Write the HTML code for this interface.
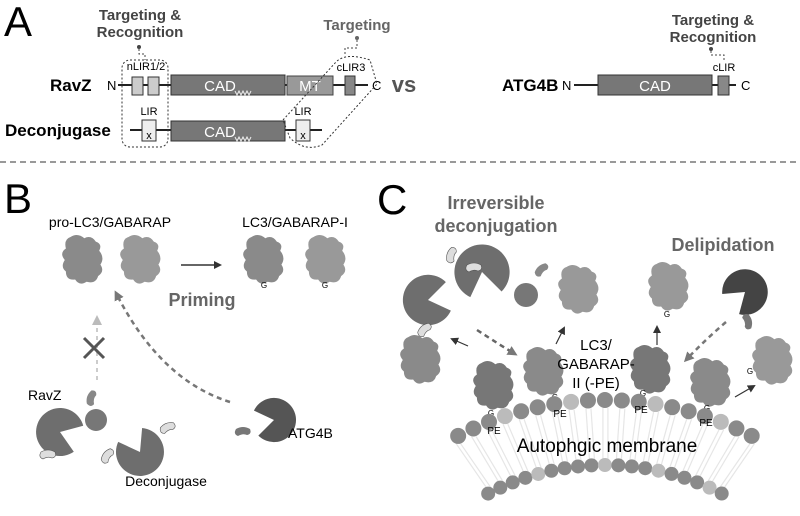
<!DOCTYPE html>
<html><head><meta charset="utf-8"><style>
html,body{margin:0;padding:0;background:#fff;}
svg{display:block;font-family:"Liberation Sans",sans-serif;}
</style></head><body>
<svg id="s" width="800" height="516" viewBox="0 0 800 516" xmlns="http://www.w3.org/2000/svg">
<defs>
<path id="pr" d="M-11.5,-23 Q-4.6,-27.6 2.3,-21.8 Q9.2,-25.3 13.8,-18.4 Q20.7,-16.1 17.2,-9.2 Q23,-2.3 18.4,4.6 Q23,11.5 16.1,16.1 Q13.8,24.1 4.6,21.8 Q-2.3,26.4 -6.9,19.5 Q-16.1,20.7 -16.1,11.5 Q-21.8,6.9 -17.2,0 Q-23,-6.9 -16.1,-11.5 Q-18.4,-20.7 -11.5,-23Z"/>
<path id="pm" d="M0,0 L19.7,-13.8 A24,24 0 1,0 19.7,13.8 Z"/>
<path id="lb" d="M-7,-3 Q0,-7 7,-3 Q9,2 4,3 Q0,1 -5,4 Q-10,2 -7,-3Z"/>
<marker id="ah" markerWidth="8" markerHeight="8" refX="6" refY="4" orient="auto" markerUnits="userSpaceOnUse"><path d="M0,0 L8,4 L0,8Z" fill="#333"/></marker>
<marker id="ahg" markerWidth="10" markerHeight="10" refX="7" refY="5" orient="auto" markerUnits="userSpaceOnUse"><path d="M0,0 L10,5 L0,10Z" fill="#777"/></marker>
<marker id="ahl" markerWidth="10" markerHeight="10" refX="7" refY="5" orient="auto" markerUnits="userSpaceOnUse"><path d="M0,0 L10,5 L0,10Z" fill="#bbb"/></marker>
</defs>

<!-- A -->
<text x="4" y="36" font-size="42">A</text>
<g font-weight="bold" font-size="15" fill="#444" text-anchor="middle">
<text x="140" y="20">Targeting &amp;</text><text x="140" y="37">Recognition</text>
<text x="357" y="30" fill="#666">Targeting</text>
<text x="713" y="25">Targeting &amp;</text><text x="713" y="42">Recognition</text>
</g>
<circle cx="139" cy="47" r="2" fill="#444"/><path d="M139,49 V54 H145 V60" stroke="#444" stroke-dasharray="2,2" fill="none"/>
<circle cx="357" cy="38" r="2" fill="#666"/><path d="M357,40 V48 H345 V55" stroke="#444" stroke-dasharray="2,2" fill="none"/>
<circle cx="711" cy="49" r="2" fill="#444"/><path d="M711,51 V55 H724 V60" stroke="#444" stroke-dasharray="2,2" fill="none"/>

<text x="50" y="91" font-weight="bold" font-size="17">RavZ</text>
<text x="5" y="136" font-weight="bold" font-size="17">Deconjugase</text>
<text x="107" y="90" font-size="13">N</text>
<text x="372" y="90" font-size="13">C</text>
<line x1="118" y1="85" x2="368" y2="85" stroke="#222" stroke-width="2"/>
<line x1="130" y1="130" x2="322" y2="130" stroke="#222" stroke-width="2"/>
<rect x="132" y="77" width="11" height="18" fill="#ccc" stroke="#333"/>
<rect x="148" y="77" width="11" height="18" fill="#ccc" stroke="#333"/>
<rect x="171" y="75" width="114" height="20" fill="#777" stroke="#333"/>
<rect x="287" y="76" width="46" height="19" fill="#999" stroke="#444"/>
<rect x="345" y="76" width="10" height="19" fill="#888" stroke="#333"/>
<rect x="171" y="121" width="114" height="20" fill="#777" stroke="#333"/>
<rect x="142" y="120" width="14" height="21" fill="#eee" stroke="#333"/>
<rect x="296" y="120" width="14" height="21" fill="#eee" stroke="#333"/>
<g font-size="12" fill="#fff" text-anchor="middle"><text x="220" y="91" font-size="15">CAD</text><text x="220" y="137" font-size="15">CAD</text><text x="310" y="91" font-size="15">MT</text></g>
<path d="M235,91 l2,4 2,-4 2,4 2,-4 2,4 2,-4 2,4 2,-4 M235,137 l2,4 2,-4 2,4 2,-4 2,4 2,-4 2,4 2,-4" stroke="#eee" fill="none"/>
<g font-size="11" text-anchor="middle"><text x="149" y="139">x</text><text x="303" y="139">x</text>
<text x="146" y="70">nLIR1/2</text><text x="149" y="115">LIR</text><text x="303" y="115">LIR</text><text x="351" y="71">cLIR3</text><text x="724" y="71">cLIR</text></g>
<rect x="122" y="60" width="46" height="87" rx="8" fill="none" stroke="#333" stroke-dasharray="2,2"/>
<path d="M283,120 L336,62 Q346,52 370,60 L377,84 L322,145 Q305,152 290,138Z" fill="none" stroke="#333" stroke-dasharray="2,2"/>
<text x="404" y="92" font-size="22" font-weight="bold" fill="#555" text-anchor="middle">vs</text>
<text x="502" y="91" font-weight="bold" font-size="17">ATG4B</text>
<text x="562" y="90" font-size="13">N</text><text x="741" y="90" font-size="13">C</text>
<line x1="574" y1="85" x2="736" y2="85" stroke="#222" stroke-width="2"/>
<rect x="598" y="75" width="114" height="20" fill="#777" stroke="#333"/>
<rect x="718" y="76" width="11" height="19" fill="#888" stroke="#333"/>
<text x="655" y="91" font-size="15" fill="#fff" text-anchor="middle">CAD</text>
<line x1="0" y1="162" x2="800" y2="162" stroke="#999" stroke-width="2" stroke-dasharray="6,4"/>

<!-- B -->
<text x="4" y="213" font-size="42">B</text>
<g font-size="14" text-anchor="middle"><text x="110" y="227">pro-LC3/GABARAP</text><text x="295" y="227">LC3/GABARAP-I</text></g>
<g fill="#8a8a8a"><use href="#pr" x="82" y="260"/><use href="#pr" x="140" y="260" fill="#999"/><use href="#pr" x="263" y="260"/><use href="#pr" x="325" y="260" fill="#999"/></g>
<g font-size="8" text-anchor="middle"><text x="264" y="288">G</text><text x="325" y="288">G</text></g>
<line x1="181" y1="265" x2="220" y2="265" stroke="#333" stroke-width="1.5" marker-end="url(#ah)"/>
<text x="202" y="306" font-size="18" font-weight="bold" fill="#666" text-anchor="middle">Priming</text>
<path d="M230,402 Q160,380 116,293" stroke="#777" stroke-width="2.5" stroke-dasharray="5,4" fill="none" marker-end="url(#ahg)"/>
<line x1="97" y1="380" x2="97" y2="318" stroke="#ccc" stroke-width="2" stroke-dasharray="4,4" marker-end="url(#ahl)"/>
<path d="M84,338 L104,358 M104,338 L84,358" stroke="#555" stroke-width="3"/>
<text x="28" y="400" font-size="14">RavZ</text>
<g fill="#6e6e6e">
<use href="#pm" transform="translate(60,432) rotate(20)"/>
<circle cx="96" cy="420" r="11" fill="#777"/>
<use href="#lb" transform="translate(92,398) rotate(-70)" fill="#888"/>
<use href="#lb" transform="translate(48,455)" fill="#ddd" stroke="#555" stroke-width=".6"/>
<use href="#pm" transform="translate(140,452) rotate(-120)"/>
<use href="#lb" transform="translate(168,428) rotate(-20)" fill="#ddd" stroke="#555" stroke-width=".6"/>
<use href="#lb" transform="translate(108,456) rotate(-50)" fill="#ddd" stroke="#555" stroke-width=".6"/>
<use href="#pm" transform="translate(274,420) rotate(170) scale(.92)" fill="#555"/>
<use href="#lb" transform="translate(243,432)" fill="#777"/>
</g>
<text x="288" y="438" font-size="14">ATG4B</text>
<text x="166" y="486" font-size="14" text-anchor="middle">Deconjugase</text>

<!-- C -->
<text x="377" y="214" font-size="42">C</text>
<g font-size="18" font-weight="bold" fill="#666" text-anchor="middle"><text x="496" y="209">Irreversible</text><text x="496" y="232">deconjugation</text><text x="723" y="251">Delipidation</text></g>
<g fill="#6e6e6e">
<use href="#pm" transform="translate(428,300) rotate(-10) scale(1.05)"/>
<use href="#lb" transform="translate(452,255) rotate(-70)" fill="#ddd" stroke="#555" stroke-width=".6"/>
<use href="#lb" transform="translate(425,330) rotate(-40)" fill="#ddd" stroke="#555" stroke-width=".6"/>
<use href="#pm" transform="translate(482,272) rotate(80) scale(1.15)"/>
<circle cx="526" cy="295" r="12" fill="#777"/>
<use href="#lb" transform="translate(542,270) rotate(-40)" fill="#888"/>
<use href="#lb" transform="translate(474,268)" fill="#ddd" stroke="#555" stroke-width=".6"/>
<use href="#pm" transform="translate(745,292) rotate(140) scale(.95)" fill="#444"/>
<use href="#lb" transform="translate(747,322) rotate(80)" fill="#777"/>
</g>
<g fill="#8a8a8a">
<use href="#pr" x="578" y="290" fill="#999"/><use href="#pr" x="668" y="287" fill="#999"/>
<use href="#pr" x="420" y="360"/><use href="#pr" x="493" y="386" fill="#777"/><use href="#pr" x="543" y="372"/><use href="#pr" x="650" y="370" fill="#777"/><use href="#pr" x="710" y="383"/><use href="#pr" x="772" y="361" fill="#999"/>
</g>
<g font-size="8" text-anchor="middle"><text x="667" y="317">G</text><text x="491" y="416">G</text><text x="555" y="400">G</text><text x="643" y="396">G</text><text x="707" y="411">G</text><text x="750" y="374">G</text></g>
<g stroke="#333" stroke-width="1.2" marker-end="url(#ah)"><line x1="468" y1="346" x2="452" y2="339"/><line x1="556" y1="344" x2="564" y2="328"/><line x1="657" y1="345" x2="657" y2="327"/><line x1="735" y1="397" x2="754" y2="386"/></g>
<path d="M477,330 Q500,345 515,354" stroke="#666" stroke-width="2.5" stroke-dasharray="5,4" fill="none" marker-end="url(#ahg)"/>
<path d="M726,322 Q705,340 686,360" stroke="#777" stroke-width="2.5" stroke-dasharray="5,4" fill="none" marker-end="url(#ahg)"/>
<g id="mem"></g>
<g font-size="15" text-anchor="middle"><text x="596" y="350">LC3/</text><text x="596" y="369">GABARAP-</text><text x="596" y="388">II (-PE)</text></g>
<g font-size="10" text-anchor="middle"><text x="494" y="434">PE</text><text x="560" y="417">PE</text><text x="641" y="413">PE</text><text x="706" y="426">PE</text></g>
<text x="607" y="452" font-size="19" text-anchor="middle">Autophgic membrane</text>
</svg>
<script>
(function(){
var g=document.getElementById('mem'),cx=605,cy=718,h='';
var light={4:1,9:1,13:1,17:1};
for(var i=0;i<19;i++){var a=-0.48+i*0.0533,s=Math.sin(a),c=Math.cos(a);
 var x1=cx+318*s,y1=cy-318*c,x2=cx+253*s,y2=cy-253*c;
 h+='<line x1="'+(x1-2*c)+'" y1="'+(y1+8)+'" x2="'+(x2-2*c)+'" y2="'+(y2-6)+'" stroke="#e6e6e6" stroke-width="1.2"/>';
 h+='<line x1="'+(x1+3*c)+'" y1="'+(y1+8)+'" x2="'+(x2+3*c)+'" y2="'+(y2-6)+'" stroke="#e6e6e6" stroke-width="1.2"/>';
 h+='<circle cx="'+x1+'" cy="'+y1+'" r="8" fill="'+(i==3||i==7||i==12||i==16?'#bbb':'#8a8a8a')+'"/>';
 h+='<circle cx="'+x2+'" cy="'+y2+'" r="7" fill="'+(light[i]?'#bbb':'#8a8a8a')+'"/>';}
g.innerHTML=h;})();
</script>
</body></html>
